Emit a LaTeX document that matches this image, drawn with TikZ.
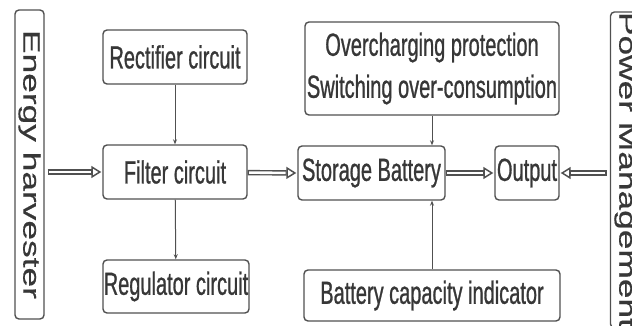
\documentclass[tikz,border=0pt]{standalone}
\usepackage{fontspec}
\setmainfont{Liberation Sans}
\newfontfamily\narrowfont{Liberation Sans}[FakeStretch=0.625, FakeBold=0.8]
\newfontfamily\sidefont{Liberation Sans}[FakeStretch=1.49, FakeBold=0.6]
\usepackage{xcolor}
\definecolor{pmline}{RGB}{80,80,80}
\definecolor{pmtext}{RGB}{55,55,55}
\usetikzlibrary{arrows.meta}

\tikzset{
  blockbox/.style={draw=pmline, line width=1.4pt, rounded corners=4pt, inner sep=0pt,
    text=pmtext, align=center, font=\narrowfont\fontsize{32}{42}\selectfont},
  sidebox/.style={blockbox, rotate=-90, font=\sidefont\fontsize{23.7}{28}\selectfont},
  bigarrow/.style={draw=pmline, line width=5.4pt,
    -{Triangle[open, length=10pt, width=12pt, line width=1.5pt]},
    postaction={draw=white, line width=2.6pt, -, shorten >=10.6pt, shorten <=1.4pt}},
  smallarrow/.style={draw=pmline, line width=1pt, -{Stealth[length=5pt,width=4pt]}}
}

\begin{document}
\begin{tikzpicture}[x=1pt, y=-1pt]
  \clip (0,0) rectangle (632,326);
  % side blocks
  \node[sidebox, minimum width=309, minimum height=29] (harvest) at (29.5,164.5) {Energy harvester};
  \node[sidebox, minimum width=302, minimum height=29] (power) at (625,170) {Power Management};
  % left column
  \node[blockbox, minimum width=144, minimum height=54] (rect) at (175,57) {Rectifier circuit};
  \node[blockbox, minimum width=144, minimum height=54] (filter) at (175,172) {Filter circuit};
  \node[blockbox, minimum width=146, minimum height=53] (reg) at (176,286.5) {Regulator circuit};
  % right column
  \node[blockbox, minimum width=254, minimum height=93] (over) at (432,68.5) {Overcharging protection\\Switching over-consumption};
  \node[blockbox, minimum width=147, minimum height=54] (store) at (371.5,173) {Storage Battery};
  \node[blockbox, minimum width=64, minimum height=54] (out) at (527,173) {Output};
  \node[blockbox, minimum width=256, minimum height=51] (cap) at (432,295.5) {Battery capacity indicator};

  \draw[bigarrow] ([xshift=3pt]harvest.north |- filter) -- ([xshift=-1pt]filter.west);
  \draw[bigarrow] (filter) -- ([xshift=-1pt]store.west);
  \draw[bigarrow] (store) -- ([xshift=-1pt]out.west);
  \draw[bigarrow] ([xshift=-3pt]power.south |- out) -- ([xshift=1pt]out.east);
  \draw[smallarrow] (rect) -- (filter);
  \draw[smallarrow] (filter) -- (reg);
  \draw[smallarrow] (over) -- (store.north -| over);
  \draw[smallarrow] (cap) -- (store.south -| cap);
\end{tikzpicture}
\end{document}
